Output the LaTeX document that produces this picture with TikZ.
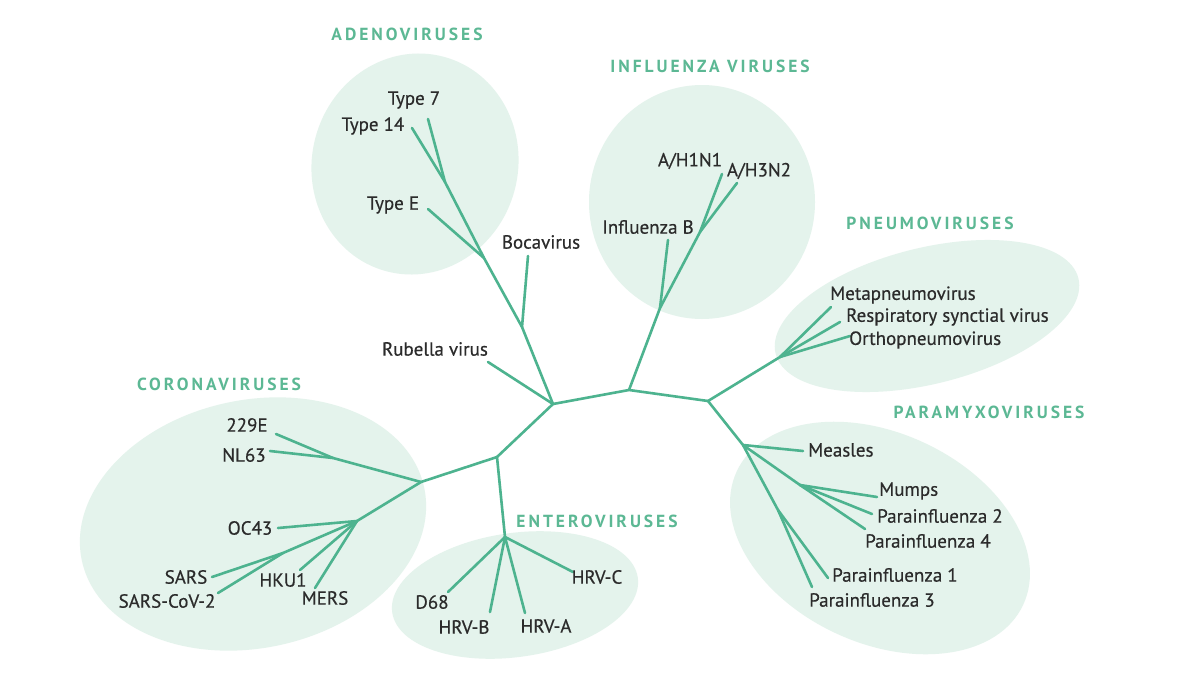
\documentclass[tikz,border=0pt]{standalone}
\usepackage{fontspec}
\setmainfont{PT Sans}
\newfontfamily\lblfont{PT Sans}[FakeBold=0.5]
\newfontfamily\hdrfont{PT Sans}[LetterSpace=17]
\usetikzlibrary{shapes.geometric}
\definecolor{brc}{HTML}{4DB38F}
\definecolor{fillc}{HTML}{E4F3EC}
\definecolor{txt}{HTML}{2B2B2B}
\definecolor{hdr}{HTML}{5CB894}
\begin{document}
\begin{tikzpicture}[x=1pt,y=-1pt,
  br/.style={draw=brc, line width=2.6pt, line cap=round, line join=round},
  lbl/.style={text=txt, font=\lblfont\fontsize{19}{21}\selectfont, inner sep=1pt},
  grp/.style={text=hdr, font=\hdrfont\bfseries\fontsize{17.5}{19}\selectfont, inner sep=1pt},
  blob/.style={ellipse, fill=fillc, draw=none, inner sep=0pt}]
\useasboundingbox (0,0) rectangle (1197,675);
\fill[white] (0,0) rectangle (1197,675);

% group areas
\node[blob, minimum width=206pt, minimum height=222pt, rotate=-15] (adE) at (415,164) {};
\node[blob, minimum width=226pt, minimum height=234pt] (inE) at (702,202) {};
\node[blob, minimum width=312pt, minimum height=136pt, rotate=14] (pnE) at (927,316) {};
\node[blob, minimum width=316pt, minimum height=210pt, rotate=-25] (pmE) at (880,538) {};
\node[blob, minimum width=350pt, minimum height=248pt, rotate=12] (coE) at (253,524) {};
\node[blob, minimum width=248pt, minimum height=124pt, rotate=8] (enE) at (515,595) {};

% headers
\node[grp] (adH) at (407,34) {ADENOVIRUSES};
\node[grp] (inH) at (710,66) {INFLUENZA VIRUSES};
\node[grp] (pnH) at (930,223) {PNEUMOVIRUSES};
\node[grp] (pmH) at (989,412) {PARAMYXOVIRUSES};
\node[grp] (coH) at (219,384) {CORONAVIRUSES};
\node[grp] (enH) at (597,521) {ENTEROVIRUSES};

% backbone
\coordinate (A) at (553,404);
\coordinate (B) at (629,390);
\coordinate (C) at (708,401);
\coordinate (D) at (497,457);
\coordinate (E) at (421,482);
\coordinate (En) at (505,537);
\coordinate (rub) at (488,362);

% adenoviruses
\coordinate (ad0) at (522,327);
\coordinate (ad1) at (484,258);
\coordinate (ad2) at (445,182);
\coordinate (boc) at (528,256);
\coordinate (tE) at (428,209);
\coordinate (t14) at (412,128);
\coordinate (t7) at (428,119);

% influenza
\coordinate (in0) at (660,308);
\coordinate (in1) at (700,232);
\coordinate (inB) at (668,240);
\coordinate (h1) at (722,174);
\coordinate (h3) at (737,183);

% pneumo
\coordinate (pn) at (780,357);
\coordinate (meta) at (831,307);
\coordinate (rsv) at (840,322);
\coordinate (orth) at (850,336);

% paramyxo
\coordinate (pm0) at (743,445);
\coordinate (pm1) at (800,485);
\coordinate (pm2) at (778,510);
\coordinate (meas) at (803,451);
\coordinate (mump) at (877,497);
\coordinate (pi2) at (872,514);
\coordinate (pi4) at (865,529);
\coordinate (pi1) at (828,578);
\coordinate (pi3) at (812,587);

% corona
\coordinate (c1) at (333,458);
\coordinate (c2) at (357,521);
\coordinate (cs) at (283,553);
\coordinate (e229) at (276,434);
\coordinate (nl63) at (270,451);
\coordinate (oc43) at (278,528);
\coordinate (sars) at (212,577);
\coordinate (sc2) at (218,593);
\coordinate (hku1) at (300,570);
\coordinate (mers) at (315,588);

% entero
\coordinate (d68) at (448,592);
\coordinate (hrvb) at (490,612);
\coordinate (hrva) at (525,613);
\coordinate (hrvc) at (573,572);

% branches
\draw[br] (E) -- (D) -- (A) -- (B) -- (C);
\draw[br] (D) -- (En);
\draw[br] (A) -- (rub);
\draw[br] (A) -- (ad0) -- (ad1) -- (ad2) -- (t14);
\draw[br] (ad2) -- (t7);
\draw[br] (ad1) -- (tE);
\draw[br] (ad0) -- (boc);
\draw[br] (B) -- (in0) -- (in1) -- (h3);
\draw[br] (in1) -- (h1);
\draw[br] (in0) -- (inB);
\draw[br] (C) -- (pn) -- (meta);
\draw[br] (pn) -- (rsv);
\draw[br] (pn) -- (orth);
\draw[br] (C) -- (pm0) -- (pm2) -- (pi3);
\draw[br] (pm2) -- (pi1);
\draw[br] (pm0) -- (meas);
\draw[br] (pm0) -- (pm1) -- (pi4);
\draw[br] (pm1) -- (mump);
\draw[br] (pm1) -- (pi2);
\draw[br] (E) -- (c1) -- (nl63);
\draw[br] (c1) -- (e229);
\draw[br] (E) -- (c2) -- (oc43);
\draw[br] (c2) -- (cs) -- (sars);
\draw[br] (cs) -- (sc2);
\draw[br] (c2) -- (hku1);
\draw[br] (c2) -- (mers);
\draw[br] (En) -- (d68);
\draw[br] (En) -- (hrvb);
\draw[br] (En) -- (hrva);
\draw[br] (En) -- (hrvc);

% labels
\node[lbl] (lt7) at (414,100) {Type 7};
\node[lbl] (lt14) at (373,126) {Type 14};
\node[lbl] (ltE) at (393,205) {Type E};
\node[lbl] (lboc) at (541,242) {Bocavirus};
\node[lbl] (lrub) at (435,349) {Rubella virus};
\node[lbl] (lh1) at (690,161) {A/H1N1};
\node[lbl] (lh3) at (759,171) {A/H3N2};
\node[lbl] (linB) at (648,227) {Influenza B};
\node[lbl, anchor=west] (lmeta) at (829,295) {Metapneumovirus};
\node[lbl, anchor=west] (lrsv) at (845,317) {Respiratory synctial virus};
\node[lbl, anchor=west] (lorth) at (848,340) {Orthopneumovirus};
\node[lbl, anchor=west] (lmeas) at (807,450) {Measles};
\node[lbl, anchor=west] (lmump) at (878,491) {Mumps};
\node[lbl, anchor=west] (lpi2) at (876,516) {Parainfluenza 2};
\node[lbl, anchor=west] (lpi4) at (864,541) {Parainfluenza 4};
\node[lbl, anchor=west] (lpi1) at (831,575) {Parainfluenza 1};
\node[lbl, anchor=west] (lpi3) at (808,600) {Parainfluenza 3};
\node[lbl] (l229) at (247,425) {229E};
\node[lbl] (lnl) at (244,455) {NL63};
\node[lbl] (loc) at (250,528) {OC43};
\node[lbl] (lsars) at (186,577) {SARS};
\node[lbl] (lsc2) at (167,601) {SARS-CoV-2};
\node[lbl] (lhku) at (283,580) {HKU1};
\node[lbl] (lmers) at (325,598) {MERS};
\node[lbl] (ld68) at (432,602) {D68};
\node[lbl] (lhrvb) at (464,627) {HRV-B};
\node[lbl] (lhrva) at (546,626) {HRV-A};
\node[lbl] (lhrvc) at (597,577) {HRV-C};
\end{tikzpicture}
\end{document}
